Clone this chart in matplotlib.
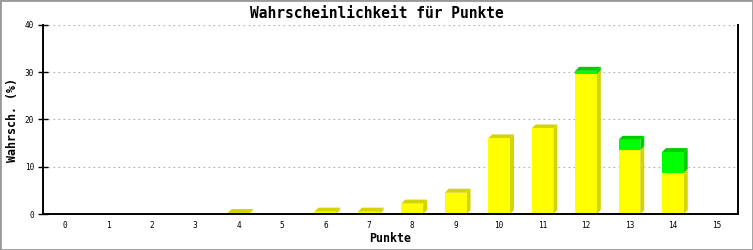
import matplotlib
matplotlib.use('Agg')
import matplotlib.pyplot as plt
from matplotlib.patches import Polygon, Rectangle

# data
punkte = list(range(16))
gelb = [0, 0, 0, 0, 0.2, 0, 0.5, 0.5, 2.2, 4.5, 16.0, 18.1, 29.6, 13.5, 8.7, 0]
gruen = [0, 0, 0, 0, 0, 0, 0, 0, 0, 0, 0, 0, 0.7, 2.2, 4.4, 0]
yticks = [0, 10, 20, 30, 40]

W, H = 753, 250
fig = plt.figure(figsize=(W / 100, H / 100), dpi=100)
fig.patches.append(Rectangle((0, 0), 1, 1, transform=fig.transFigure, fill=False,
                             edgecolor='#999999', linewidth=2.0))

x0, x1, y0, y1 = 43, 738, 25, 214
ax = fig.add_axes([x0 / W, (H - y1) / H, (x1 - x0) / W, (y1 - y0) / H])
ax.set_xlim(-0.5, 15.5)
ax.set_ylim(0, 40)

# 3d depth of 4 px in data units
dx = 4 / ((x1 - x0) / 16)
dy = 4 / ((y1 - y0) / 40)
bw = 0.5

def block(x, base, h, front, dark, with_top, z):
    if h <= 0:
        return
    L, R, T = x - bw / 2, x + bw / 2, base + h
    ax.add_patch(Polygon([(R, base), (R + dx, base + dy), (R + dx, T + dy), (R, T)],
                         closed=True, facecolor=dark, edgecolor='none', zorder=z))
    if with_top:
        ax.add_patch(Polygon([(L, T), (L + dx, T + dy), (R + dx, T + dy), (R, T)],
                             closed=True, facecolor=dark, edgecolor='none', zorder=z))
    ax.bar(x, h, bw, bottom=base, color=front, linewidth=0, zorder=z + 0.5)

for i, p in enumerate(punkte):
    block(p, 0, gelb[i], '#ffff00', '#d4d400', gruen[i] == 0, 2)
    block(p, gelb[i], gruen[i], '#00ff00', '#00cc00', True, 4)

ax.set_axisbelow(True)
ax.yaxis.grid(True, color='#b0b0b0', linestyle=(0, (1.5, 3)), linewidth=0.8)
ax.set_yticks(yticks)
ax.set_xticks(punkte)
ax.set_xticklabels([str(p) for p in punkte], fontsize=5.6, family='DejaVu Sans Mono')
ax.set_yticklabels([str(v) for v in yticks], fontsize=5.6, family='DejaVu Sans Mono')
ax.tick_params(axis='y', direction='inout', length=7.2, width=1.0, pad=3)
ax.tick_params(axis='x', length=0, pad=5)

for s in ['left', 'bottom', 'right']:
    ax.spines[s].set_linewidth(1.4)
    ax.spines[s].set_color('black')
ax.spines['top'].set_visible(False)

fig.text(0.5, 1 - 13 / H, 'Wahrscheinlichkeit für Punkte', ha='center', va='center',
         fontsize=10.5, fontweight='bold', family='DejaVu Sans Mono')
fig.text(390 / W, 1 - 239 / H, 'Punkte', ha='center', va='center',
         fontsize=8.4, fontweight='bold', family='DejaVu Sans Mono')
fig.text(12.5 / W, 1 - 120 / H, 'Wahrsch. (%)', ha='center', va='center', rotation=90,
         fontsize=8.4, fontweight='bold', family='DejaVu Sans Mono')

fig.savefig('out.png', dpi=100)
